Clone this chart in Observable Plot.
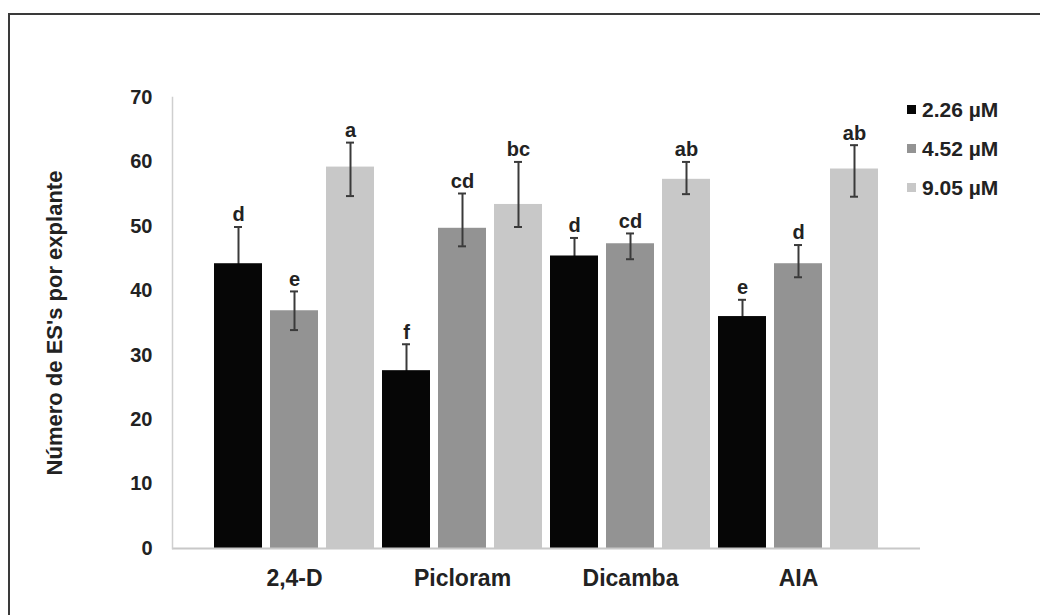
<!DOCTYPE html>
<html>
<head>
<meta charset="utf-8">
<script src="https://cdn.jsdelivr.net/npm/d3@7"></script>
<script src="https://cdn.jsdelivr.net/npm/@observablehq/plot@0.6"></script>
<style>
  html, body { margin: 0; padding: 0; background: #ffffff; overflow: hidden; }
  #wrap { position: relative; width: 1040px; height: 615px; overflow: hidden; font-family: "Liberation Sans", Arial, sans-serif; }
  #border { position: absolute; left: 8px; top: 13px; width: 1100px; height: 700px; border: 2px solid #3a3a3a; box-sizing: border-box; }
  #chart { position: absolute; left: 0; top: 0; }
  #legend { position: absolute; left: 907px; top: 90px; font-size: 21px; font-weight: bold; color: #222; }
  #legend .row { display: flex; align-items: center; height: 39px; }
  #legend .sw { width: 9px; height: 9px; margin-right: 6px; }
</style>
</head>
<body>
<div id="wrap">
  <div id="border"></div>
  <div id="chart"></div>
  <div id="legend"></div>
</div>
<script>
// ---- data ----
const categories = ["2,4-D", "Picloram", "Dicamba", "AIA"];
const series = ["2.26 µM", "4.52 µM", "9.05 µM"];
const colors = ["#060606", "#939393", "#c8c8c8"];

const values226 = [44.2, 27.6, 45.4, 36.0];
const values452 = [36.9, 49.7, 47.3, 44.2];
const values905 = [59.2, 53.4, 57.3, 58.9];

const errUp226 = [5.7, 4.1, 2.8, 2.6];
const errDown226 = [5.7, 4.1, 2.8, 2.6];
const errUp452 = [3.0, 5.4, 1.6, 2.9];
const errDown452 = [3.0, 2.8, 2.4, 2.1];
const errUp905 = [3.8, 6.6, 2.7, 3.7];
const errDown905 = [4.5, 3.5, 2.3, 4.3];

const letters226 = ["d", "f", "d", "e"];
const letters452 = ["e", "cd", "cd", "d"];
const letters905 = ["a", "bc", "ab", "ab"];

const yTicks = [0, 10, 20, 30, 40, 50, 60, 70];
const yTitle = "Número de ES's por explante";

// ---- table ----
const valueSets = [values226, values452, values905];
const upSets = [errUp226, errUp452, errUp905];
const downSets = [errDown226, errDown452, errDown905];
const letterSets = [letters226, letters452, letters905];

const rows = [];
const keys = [];
categories.forEach((c, ci) => {
  series.forEach((s, si) => {
    const key = c + "|" + s;
    keys.push(key);
    const v = valueSets[si][ci];
    rows.push({
      key, cat: c, series: s, value: v,
      hi: v + upSets[si][ci], lo: v - downSets[si][ci],
      letter: letterSets[si][ci]
    });
  });
});
const middleKeys = categories.map(c => c + "|" + series[1]);
const darkRows = rows.filter(d => d.series === series[0]);
const otherRows = rows.filter(d => d.series !== series[0]);

const errColor = "#3a3a3a";
const errMarks = (data) => [
  Plot.ruleX(data, { x: "key", y1: "lo", y2: "hi", stroke: errColor, strokeWidth: 2 }),
  Plot.tickY(data, { x: "key", y: "hi", insetLeft: 20, insetRight: 20, stroke: errColor, strokeWidth: 2 }),
  Plot.tickY(data, { x: "key", y: "lo", insetLeft: 20, insetRight: 20, stroke: errColor, strokeWidth: 2 })
];

const chart = Plot.plot({
  width: 1040,
  height: 615,
  marginLeft: 172,
  marginRight: 120,
  marginTop: 97,
  marginBottom: 67,
  style: { fontFamily: "'Liberation Sans', Arial, sans-serif", background: "transparent", color: "#222" },
  x: { domain: keys, paddingInner: 0.142, paddingOuter: 0.726, axis: null },
  y: { domain: [0, 70], axis: null },
  color: { domain: series, range: colors },
  marks: [
    ...errMarks(darkRows),
    Plot.barY(rows, { x: "key", y: "value", fill: "series" }),
    Plot.ruleY([0], { stroke: "#c8c8c8", strokeWidth: 2 }),
    Plot.frame({ anchor: "left", stroke: "#cfcfcf", strokeWidth: 1.5 }),
    ...errMarks(otherRows),
    Plot.text(rows, { x: "key", y: "hi", text: "letter", dy: -12, fontSize: 20, fontWeight: "bold", fill: "#222" }),
    Plot.axisY({
      ticks: yTicks, tickSize: 0, tickPadding: 20, fontSize: 20, fontWeight: "bold",
      label: yTitle, labelAnchor: "center", labelOffset: 126, labelArrow: "none"
    }),
    Plot.axisX({
      ticks: middleKeys, tickFormat: k => k.split("|")[0], tickSize: 0, tickPadding: 21,
      fontSize: 23, fontWeight: "bold", label: null
    })
  ]
});
// enlarge the y-axis title
chart.querySelectorAll("g[aria-label='y-axis label'] text").forEach(t => t.setAttribute("font-size", "22"));
document.getElementById("chart").appendChild(chart);

// ---- legend ----
const legend = document.getElementById("legend");
series.forEach((s, i) => {
  const row = document.createElement("div");
  row.className = "row";
  const sw = document.createElement("div");
  sw.className = "sw";
  sw.style.background = colors[i];
  const t = document.createElement("span");
  t.textContent = s;
  row.appendChild(sw);
  row.appendChild(t);
  legend.appendChild(row);
});
</script>
</body>
</html>
